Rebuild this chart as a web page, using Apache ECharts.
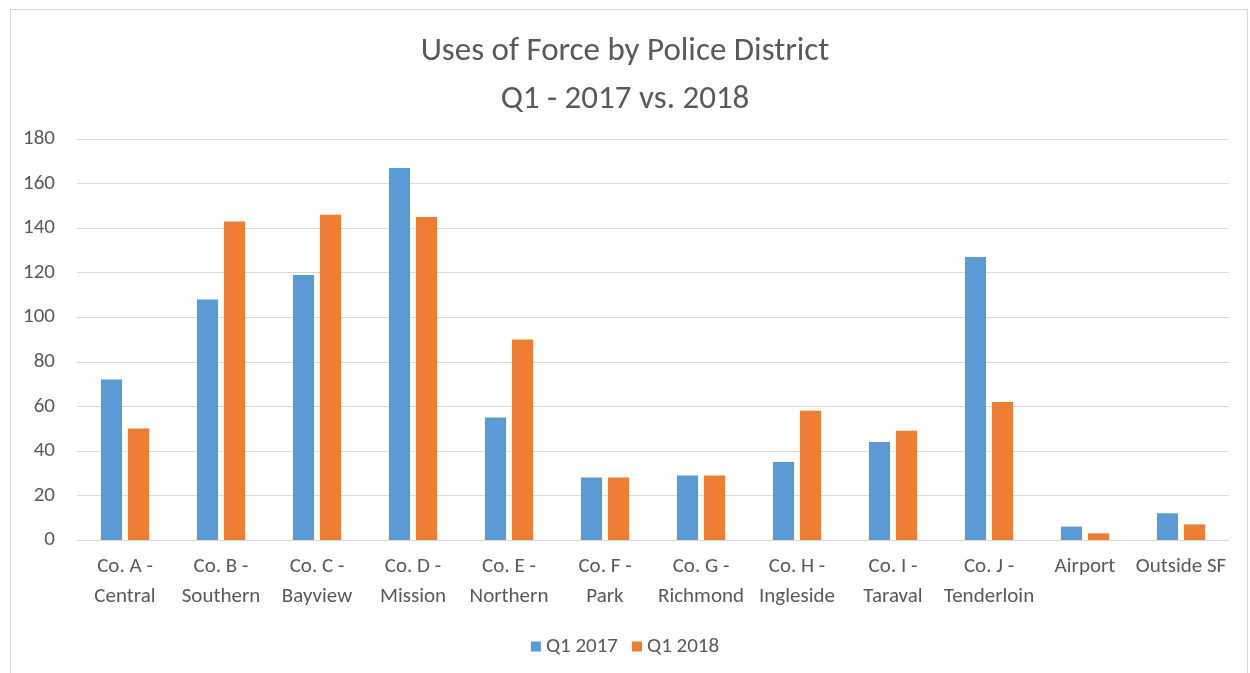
<!DOCTYPE html>
<html>
<head>
<meta charset="utf-8">
<script src="https://cdn.jsdelivr.net/npm/echarts@6/dist/echarts.min.js"></script>
<style>
  html, body { margin: 0; padding: 0; background: #fff; }
  #chart { width: 1250px; height: 673px; }
  #frame { position: absolute; left: 10px; top: 9px; width: 1236px; height: 680px; border: 1px solid #d9d9d9; pointer-events: none; }
</style>
</head>
<body>
<div id="chart"></div>
<div id="frame"></div>
<script>
const categories = [
  "Co. A -\nCentral", "Co. B -\nSouthern", "Co. C -\nBayview", "Co. D -\nMission",
  "Co. E -\nNorthern", "Co. F -\nPark", "Co. G -\nRichmond", "Co. H -\nIngleside",
  "Co. I -\nTaraval", "Co. J -\nTenderloin", "Airport", "Outside SF"
];
const q1_2017 = [72, 108, 119, 167, 55, 28, 29, 35, 44, 127, 6, 12];
const q1_2018 = [50, 143, 146, 145, 90, 28, 29, 58, 49, 62, 3, 7];
const seriesNames = ["Q1 2017", "Q1 2018"];
const yTicks = { min: 0, max: 180, interval: 20 };

const FONT = "Carlito, 'Liberation Sans Narrow', 'Open Sans', sans-serif";
const chart = echarts.init(document.getElementById('chart'));
chart.setOption({
  animation: false,
  backgroundColor: '#fff',
  title: {
    text: 'Uses of Force by Police District\nQ1 - 2017 vs. 2018',
    left: 'center',
    top: 23,
    textStyle: { fontFamily: FONT, fontSize: 33, fontWeight: 'normal', color: '#595959', lineHeight: 48 }
  },
  legend: {
    data: seriesNames,
    top: 631,
    left: 'center',
    itemWidth: 10,
    itemHeight: 10,
    itemGap: 14,
    icon: 'rect',
    textStyle: { fontFamily: FONT, fontSize: 21, color: '#595959' }
  },
  grid: { left: 77, right: 21, top: 139, bottom: 133, containLabel: false },
  xAxis: {
    type: 'category',
    data: categories,
    axisLine: { show: true, lineStyle: { color: '#d9d9d9', width: 1 } },
    axisTick: { show: false },
    axisLabel: { interval: 0, fontFamily: FONT, fontSize: 21, color: '#595959', lineHeight: 30, margin: 12 }
  },
  yAxis: {
    type: 'value',
    min: yTicks.min, max: yTicks.max, interval: yTicks.interval,
    axisLine: { show: false },
    axisTick: { show: false },
    splitLine: { lineStyle: { color: '#d9d9d9', width: 1 } },
    axisLabel: { fontFamily: FONT, fontSize: 21, color: '#595959', margin: 22 }
  },
  series: [
    { name: seriesNames[0], type: 'bar', data: q1_2017, barWidth: '22%', barGap: '28%', itemStyle: { color: '#5B9BD5' } },
    { name: seriesNames[1], type: 'bar', data: q1_2018, barWidth: '22%', barGap: '28%', itemStyle: { color: '#ED7D31' } }
  ]
});
</script>
</body>
</html>
